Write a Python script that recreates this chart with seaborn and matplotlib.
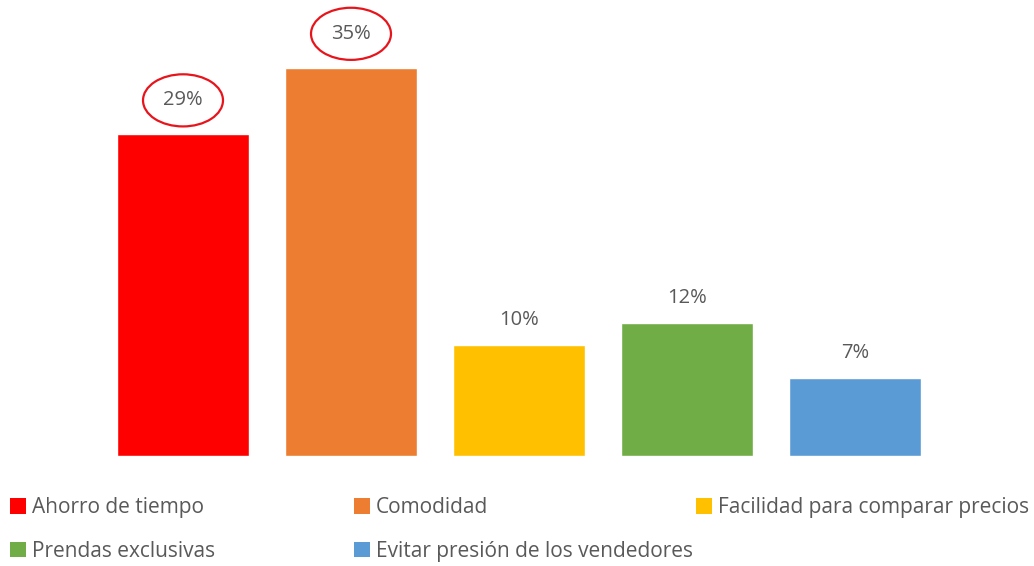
import matplotlib
matplotlib.use("Agg")
import matplotlib.pyplot as plt
from matplotlib.patches import Ellipse, Patch
import pandas as pd
import seaborn as sns

categories = [
    "Ahorro de tiempo",
    "Comodidad",
    "Facilidad para comparar precios",
    "Prendas exclusivas",
    "Evitar presión de los vendedores",
]
values = [29, 35, 10, 12, 7]
colors = ["#FF0000", "#ED7D31", "#FFC000", "#70AD47", "#5B9BD5"]
circled = ["Ahorro de tiempo", "Comodidad"]

TEXT = "#595959"

sns.set_style("white")
plt.rcParams["font.family"] = ["Open Sans", "DejaVu Sans"]

df = pd.DataFrame({"cat": categories, "val": values})

fig = plt.figure(figsize=(10.34, 5.66), dpi=100)
ax = fig.add_axes([99 / 1034, 0.1943, 840 / 1034, 0.7838])

sns.barplot(data=df, x="cat", y="val", hue="cat", palette=colors,
            order=categories, hue_order=categories, width=0.786,
            legend=False, saturation=1, ax=ax)

ax.set_xlim(-0.5, len(categories) - 0.5)
ax.set_ylim(0, 40)
ax.set_xticks([])
ax.set_yticks([])
ax.set_xlabel("")
ax.set_ylabel("")
sns.despine(ax=ax, left=True, bottom=True, top=True, right=True)

for i, (cat, v) in enumerate(zip(categories, values)):
    off = 24.5 if cat in circled else 18
    ax.annotate(f"{v}%", (i, v), xytext=(0, off), textcoords="offset points",
                ha="center", va="center", fontsize=14.5, color=TEXT)
    if cat in circled:
        cy = v + off / 0.72 / 11.09
        ax.add_patch(Ellipse((i, cy), 0.476, 4.7, fill=False,
                             edgecolor="#E8141B", lw=1.6, clip_on=False))

# legend: three columns, placed like the original
cols = [[0, 3], [1, 4], [2]]
xs = [6 / 1034, 350 / 1034, 692 / 1034]
for idx, x in zip(cols, xs):
    handles = [Patch(facecolor=colors[k], edgecolor="none") for k in idx]
    labels = [categories[k] for k in idx]
    leg = fig.legend(handles, labels, loc="upper left", bbox_to_anchor=(x, 1 - 493 / 566),
                     frameon=False, fontsize=15, handlelength=0.75, handleheight=0.75,
                     handletextpad=0.3, labelspacing=1.1, borderaxespad=0,
                     borderpad=0.2)
    for t in leg.get_texts():
        t.set_color(TEXT)

fig.savefig("out.png", dpi=100)
